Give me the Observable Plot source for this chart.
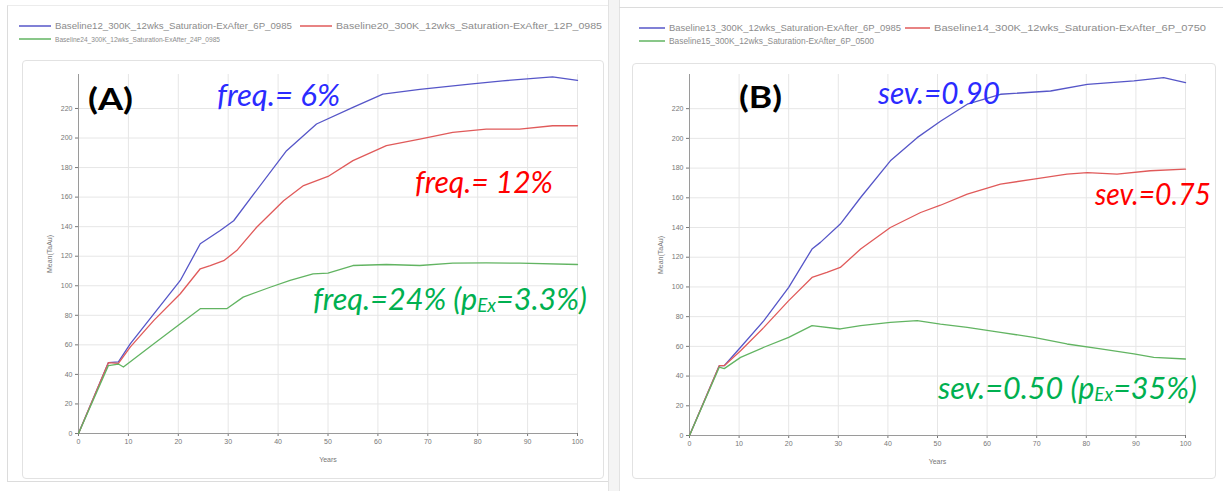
<!DOCTYPE html>
<html>
<head>
<meta charset="utf-8">
<script src="https://cdn.jsdelivr.net/npm/d3@7"></script>
<script src="https://cdn.jsdelivr.net/npm/@observablehq/plot@0.6"></script>
<style>
  html, body { margin: 0; padding: 0; background: #fff; }
  #root { position: relative; width: 1223px; height: 491px; overflow: hidden; background: #fff; font-family: "Liberation Sans", Arial, sans-serif; }
  .abs { position: absolute; }
</style>
</head>
<body>
<div id="root"></div>
<script>
// ---------- data ----------
const xTicks = [0, 10, 20, 30, 40, 50, 60, 70, 80, 90, 100];
const yTicks = [0, 20, 40, 60, 80, 100, 120, 140, 160, 180, 200, 220];

const namesA = [
  "Baseline12_300K_12wks_Saturation-ExAfter_6P_0985",
  "Baseline20_300K_12wks_Saturation-ExAfter_12P_0985",
  "Baseline24_300K_12wks_Saturation-ExAfter_24P_0985"
];
const namesB = [
  "Baseline13_300K_12wks_Saturation-ExAfter_6P_0985",
  "Baseline14_300K_12wks_Saturation-ExAfter_6P_0750",
  "Baseline15_300K_12wks_Saturation-ExAfter_6P_0500"
];

// Panel A (frequency)
const aBlueYears  = [0, 6, 8, 10.4, 15.1, 20.4, 24.4, 28.4, 31.1, 35.1, 41.7, 47.7, 55, 61, 68.4, 78.4, 85, 95, 100];
const aBlueValues = [0, 48, 48.5, 60.8, 81, 103.6, 128.4, 137.4, 144, 162, 191.4, 209.5, 220.7, 229.7, 233, 236.5, 238.7, 241.4, 239];
const aRedYears   = [0, 6, 8, 10.4, 15.1, 20.4, 24.4, 26.4, 29.1, 31.7, 35.7, 41.1, 45.1, 50, 55, 61.7, 68.4, 75, 81.7, 88.4, 95, 100];
const aRedValues  = [0, 48, 47.5, 58.6, 76.6, 94.6, 111.5, 113.7, 117, 123.8, 139.6, 157.6, 167.8, 174, 184.7, 194.8, 199.3, 203.8, 206, 206, 208.3, 208.3];
const aGreenYears = [0, 6, 8, 9, 15.1, 20.4, 24.4, 29.7, 33, 38.4, 42.4, 47, 50, 55, 61.7, 68.4, 75, 81.7, 88.4, 100];
const aGreenValues= [0, 46, 47, 45, 60.8, 74.3, 84.5, 84.5, 92.3, 99, 103.6, 108, 108.5, 113.7, 114.4, 113.7, 115.3, 115.5, 115.3, 114.4];

// Panel B (severity)
const bBlueYears  = [0, 6, 7, 10.3, 15, 20, 24.7, 26.4, 30.4, 34.5, 40.5, 45.9, 50.6, 56, 62.7, 72.8, 80.2, 89.6, 95.6, 100];
const bBlueValues = [0, 47, 47, 59.4, 77.3, 99.7, 125.5, 130, 142.3, 160.2, 184.9, 200.5, 211.5, 223, 229.7, 231.9, 236.4, 238.7, 240.9, 237.5];
const bRedYears   = [0, 6, 7, 10.3, 15, 20, 24.7, 27.7, 30.4, 34.5, 40.5, 46.6, 50.6, 56, 62.7, 69.4, 76.1, 80.2, 86.2, 92.9, 100];
const bRedValues  = [0, 47, 47, 57, 72.8, 90.8, 106.4, 109.8, 113.1, 125.5, 140, 150.1, 155, 162.5, 169.2, 172.6, 175.9, 177, 175.9, 178.2, 179.3];
const bGreenYears = [0, 6, 7, 10.3, 15, 20, 24.7, 30.4, 34.5, 40.5, 45.9, 50.6, 56, 62.7, 69.4, 76.1, 82.9, 89.6, 93.6, 100];
const bGreenValues= [0, 46, 45, 52.6, 59.4, 66.1, 74, 71.7, 74, 76.2, 77.3, 75, 72.8, 69.4, 66.1, 61.6, 58.3, 54.9, 52.6, 51.5];

const xLabel = "Years";
const yLabel = "Mean(TaAu)";

// ---------- styles ----------
const lineColors = ["#5656c8", "#e05a5a", "#62b462"];

function toRows(names, pairs) {
  return pairs.flatMap(([ys, vs], i) => ys.map((y, j) => ({series: names[i], year: y, value: vs[j]})));
}

const rowsA = toRows(namesA, [[aBlueYears, aBlueValues], [aRedYears, aRedValues], [aGreenYears, aGreenValues]]);
const rowsB = toRows(namesB, [[bBlueYears, bBlueValues], [bRedYears, bRedValues], [bGreenYears, bGreenValues]]);

function panel(rows, names, dims) {
  return Plot.plot({
    width: dims.width,
    height: dims.height,
    marginLeft: dims.ml,
    marginRight: dims.mr,
    marginTop: dims.mt,
    marginBottom: dims.mb,
    style: {background: "transparent", fontFamily: "Liberation Sans, Arial, sans-serif", fontSize: "7px", color: "#777", overflow: "visible"},
    x: {domain: [0, 100], ticks: xTicks, tickSize: 3, tickPadding: 3, label: xLabel, labelAnchor: "center", labelArrow: "none", labelOffset: 28},
    y: {domain: [0, 243], ticks: yTicks, tickSize: 3, tickPadding: 3, label: yLabel, labelAnchor: "center", labelArrow: "none", labelOffset: 31},
    color: {domain: names, range: lineColors},
    marks: [
      Plot.gridX(xTicks, {stroke: "#e6e6e6", strokeOpacity: 1}),
      Plot.gridY(yTicks, {stroke: "#e6e6e6", strokeOpacity: 1}),
      Plot.ruleX([0], {stroke: "#9a9a9a"}),
      Plot.ruleY([0], {stroke: "#9a9a9a"}),
      Plot.line(rows, {x: "year", y: "value", z: "series", stroke: "series", strokeWidth: 1.3})
    ]
  });
}

const root = document.getElementById("root");

function box(left, top, width, height, css) {
  const d = document.createElement("div");
  d.className = "abs";
  Object.assign(d.style, {left: left + "px", top: top + "px", width: width + "px", height: height + "px"}, css || {});
  root.appendChild(d);
  return d;
}

// screenshot frames
box(7, 5, 602, 475, {borderLeft: "1px solid #dcdcdc", borderTop: "1px solid #ececec", borderBottom: "1px solid #dcdcdc"});
box(608, 0, 10, 491, {background: "#f4f4f4", borderLeft: "1px solid #e2e2e2", borderRight: "1px solid #e2e2e2"});
box(619, 7, 604, 484, {borderTop: "1px solid #dcdcdc"});
// inner plot boxes
box(22, 60, 580, 417, {border: "1px solid #e2e2e2", borderRadius: "4px"});
box(632, 63, 582, 414, {border: "1px solid #e2e2e2", borderRadius: "4px"});

// charts
const chartA = panel(rowsA, namesA, {width: 581, height: 418, ml: 56, mr: 26, mt: 14, mb: 45});
Object.assign(chartA.style, {position: "absolute", left: "22px", top: "60px"});
root.appendChild(chartA);

const chartB = panel(rowsB, namesB, {width: 583, height: 418, ml: 57, mr: 30, mt: 14, mb: 43});
Object.assign(chartB.style, {position: "absolute", left: "632px", top: "60px"});
root.appendChild(chartB);

// overlay for legends and annotations
const ns = "http://www.w3.org/2000/svg";
const ov = document.createElementNS(ns, "svg");
ov.setAttribute("width", 1223);
ov.setAttribute("height", 491);
Object.assign(ov.style, {position: "absolute", left: 0, top: 0, pointerEvents: "none", overflow: "visible"});
root.appendChild(ov);

function legendItem(x1, x2, y, color, name, tx, len, size) {
  const l = document.createElementNS(ns, "line");
  l.setAttribute("x1", x1); l.setAttribute("x2", x2);
  l.setAttribute("y1", y); l.setAttribute("y2", y);
  l.setAttribute("stroke", color); l.setAttribute("stroke-width", 1.5);
  ov.appendChild(l);
  const t = document.createElementNS(ns, "text");
  t.setAttribute("x", tx); t.setAttribute("y", y + 3);
  t.setAttribute("fill", "#8c8c8c");
  t.setAttribute("font-family", "Liberation Sans, Arial, sans-serif");
  t.setAttribute("font-size", size || 9.5);
  t.setAttribute("textLength", len);
  t.setAttribute("lengthAdjust", "spacingAndGlyphs");
  t.textContent = name;
  ov.appendChild(t);
}
legendItem(19, 51, 26, lineColors[0], namesA[0], 55, 237);
legendItem(300, 332, 26, lineColors[1], namesA[1], 336, 266);
legendItem(19, 51, 39, lineColors[2], namesA[2], 55, 165, 8);
legendItem(639, 665, 28, lineColors[0], namesB[0], 669, 232);
legendItem(905, 930, 28, lineColors[1], namesB[1], 934, 272);
legendItem(639, 665, 41, lineColors[2], namesB[2], 669, 205, 9);

function label(x, y, len, fill, parts, opts) {
  opts = opts || {};
  const t = document.createElementNS(ns, "text");
  t.setAttribute("x", x);
  t.setAttribute("y", y);
  t.setAttribute("fill", fill);
  t.setAttribute("font-family", "Lato, 'Open Sans', sans-serif");
  t.setAttribute("font-size", opts.size || 31);
  t.setAttribute("font-style", opts.bold ? "normal" : "italic");
  t.setAttribute("font-weight", opts.bold ? "bold" : "normal");
  t.setAttribute("textLength", len);
  t.setAttribute("lengthAdjust", "spacingAndGlyphs");
  for (const p of parts) {
    const s = document.createElementNS(ns, "tspan");
    s.textContent = p.t;
    if (p.sub) { s.setAttribute("font-size", 19); s.setAttribute("dy", 2); }
    if (p.back) { s.setAttribute("dy", -2); }
    t.appendChild(s);
  }
  ov.appendChild(t);
}

label(88, 110, 45, "#000", [{t: "(A)"}], {bold: true, size: 31});
label(217, 106, 123, "#2b2bff", [{t: "freq.= 6%"}]);
label(415, 193, 138, "#ff0000", [{t: "freq.= 12%"}]);
label(313, 310, 274, "#00b050", [{t: "freq.=24% (p"}, {t: "Ex", sub: true}, {t: "=3.3%)", back: true}]);

label(739, 108, 43, "#000", [{t: "(B)"}], {bold: true, size: 31});
label(878, 104, 122, "#2b2bff", [{t: "sev.=0.90"}]);
label(1095, 205, 116, "#ff0000", [{t: "sev.=0.75"}]);
label(938, 399, 259, "#00b050", [{t: "sev.=0.50 (p"}, {t: "Ex", sub: true}, {t: "=35%)", back: true}]);
</script>
</body>
</html>
